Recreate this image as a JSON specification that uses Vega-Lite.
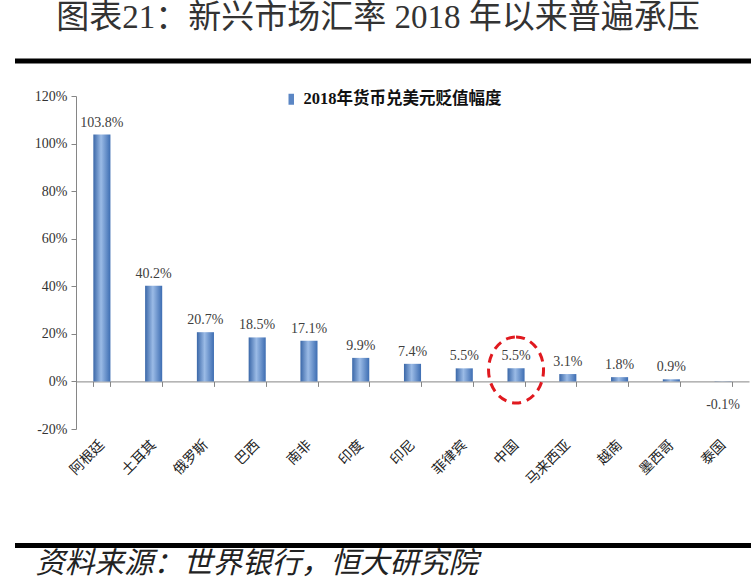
{
  "$schema": "https://vega.github.io/schema/vega-lite/v6.json",
  "width": 736,
  "height": 333,
  "autosize": {"type": "none"},
  "padding": {"left": 15, "top": 96, "right": 3, "bottom": 151},
  "background": "white",
  "title": {
    "text": "图表21：新兴市场汇率 2018 年以来普遍承压",
    "font": "Liberation Serif, Noto Sans CJK SC",
    "fontSize": 33,
    "fontWeight": "normal",
    "color": "#333333",
    "anchor": "middle",
    "frame": "group",
    "dx": -5,
    "offset": 24
  },
  "data": {
    "values": [
      {"country": "阿根廷", "value": 1.038},
      {"country": "土耳其", "value": 0.402},
      {"country": "俄罗斯", "value": 0.207},
      {"country": "巴西", "value": 0.185},
      {"country": "南非", "value": 0.171},
      {"country": "印度", "value": 0.099},
      {"country": "印尼", "value": 0.074},
      {"country": "菲律宾", "value": 0.055},
      {"country": "中国", "value": 0.055},
      {"country": "马来西亚", "value": 0.031},
      {"country": "越南", "value": 0.018},
      {"country": "墨西哥", "value": 0.009},
      {"country": "泰国", "value": -0.001}
    ]
  },
  "layer": [
    {
      "data": {"values": [{}]},
      "mark": {"type": "rule", "color": "#000000", "strokeWidth": 5, "clip": false},
      "encoding": {"y": {"datum": 1.347, "type": "quantitative"}}
    },
    {
      "data": {"values": [{}]},
      "mark": {"type": "rule", "color": "#000000", "strokeWidth": 5, "clip": false},
      "encoding": {"y": {"datum": -0.69, "type": "quantitative"}}
    },
    {
      "mark": {
        "type": "bar",
        "color": {
          "gradient": "linear",
          "x1": 0, "x2": 1, "y1": 0, "y2": 0,
          "stops": [
            {"offset": 0, "color": "#3a67a8"},
            {"offset": 0.45, "color": "#9bbbe6"},
            {"offset": 1, "color": "#3d6db2"}
          ]
        }
      },
      "encoding": {
        "x": {
          "field": "country",
          "type": "nominal",
          "sort": null,
          "scale": {"range": [61, 734], "paddingInner": 0.67, "paddingOuter": 0.335},
          "axis": {
            "title": "资料来源：世界银行，恒大研究院",
            "titleFont": "Noto Sans CJK SC",
            "titleFontSize": 29.5,
            "titleFontStyle": "italic",
            "titleFontWeight": "normal",
            "titleColor": "#222222",
            "titleX": 20,
            "titleY": 182,
            "titleAlign": "left",
            "titleBaseline": "middle",
            "titleAngle": 0,
            "offset": -47.6,
            "domainColor": "#868686",
            "tickColor": "#868686",
            "tickSize": 5,
            "tickBand": "extent",
            "labelAngle": -45,
            "labelPadding": 56,
            "labelFont": "Noto Sans CJK SC",
            "labelFontSize": 14,
            "labelColor": "#222222",
            "labelAlign": "right",
            "labelBaseline": "middle"
          }
        },
        "y": {
          "field": "value",
          "type": "quantitative",
          "scale": {"domain": [-0.2, 1.2], "nice": false, "zero": false},
          "axis": {
            "title": null,
            "values": [-0.2, 0, 0.2, 0.4, 0.6, 0.8, 1, 1.2],
            "format": ".0%",
            "labelExpr": "replace(datum.label, '−', '-')",
            "offset": -61,
            "grid": false,
            "domainColor": "#868686",
            "tickColor": "#868686",
            "tickSize": 5,
            "labelPadding": 4,
            "labelFont": "Liberation Serif",
            "labelFontSize": 14,
            "labelColor": "#333333"
          }
        }
      }
    },
    {
      "mark": {"type": "bar", "opacity": 0},
      "encoding": {
        "x": {"field": "country", "type": "nominal", "sort": null},
        "y": {"field": "value", "type": "quantitative"},
        "color": {
          "datum": "2018年货币兑美元贬值幅度",
          "type": "nominal",
          "scale": {"range": ["#5b86c4"]},
          "legend": {
            "orient": "none",
            "legendX": 268,
            "legendY": -5,
            "title": null,
            "padding": 0,
            "symbolType": "M-0.5,-1H0.5V1H-0.5Z",
            "symbolSize": 121,
            "symbolOpacity": 1,
            "symbolStrokeWidth": 0,
            "symbolFillColor": "#5b86c4",
            "labelFont": "Liberation Serif, Noto Sans CJK SC",
            "labelFontSize": 16.5,
            "labelFontWeight": "bold",
            "labelColor": "#111111",
            "labelOffset": 4,
            "labelLimit": 400
          }
        }
      }
    },
    {
      "transform": [
        {"filter": "datum.value >= 0"},
        {"calculate": "replace(format(datum.value, '.1%'), '−', '-')", "as": "label"}
      ],
      "mark": {"type": "text", "baseline": "bottom", "dy": -5, "font": "Liberation Serif", "fontSize": 14, "color": "#404040"},
      "encoding": {
        "x": {"field": "country", "type": "nominal", "sort": null},
        "y": {"field": "value", "type": "quantitative"},
        "text": {"field": "label"}
      }
    },
    {
      "transform": [
        {"filter": "datum.value < 0"},
        {"calculate": "replace(format(datum.value, '.1%'), '−', '-')", "as": "label"}
      ],
      "mark": {"type": "text", "baseline": "middle", "dy": 23, "font": "Liberation Serif", "fontSize": 14, "color": "#404040"},
      "encoding": {
        "x": {"field": "country", "type": "nominal", "sort": null},
        "y": {"field": "value", "type": "quantitative"},
        "text": {"field": "label"}
      }
    },
    {
      "transform": [{"filter": "datum.country == '中国'"}],
      "mark": {
        "type": "point",
        "shape": "M0,-0.95A0.833,1,0,1,1,0,1.05A0.833,1,0,1,1,0,-0.95Z",
        "filled": false,
        "size": 4356,
        "stroke": "#e0191f",
        "strokeWidth": 3,
        "strokeDash": [9, 6],
        "opacity": 1
      },
      "encoding": {
        "x": {"field": "country", "type": "nominal", "sort": null},
        "y": {"field": "value", "type": "quantitative"}
      }
    }
  ],
  "config": {"view": {"stroke": null}}
}
